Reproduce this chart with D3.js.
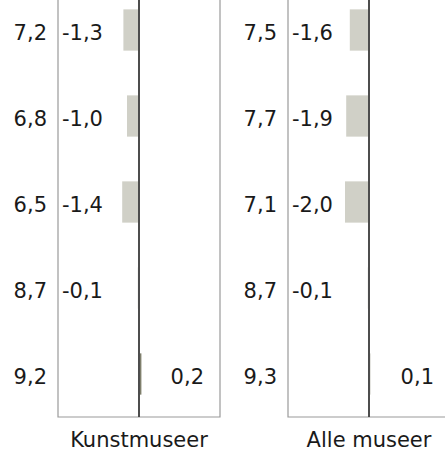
<!DOCTYPE html>
<html>
<head>
<meta charset="utf-8">
<script src="https://cdn.jsdelivr.net/npm/d3@7"></script>
<style>
  body { margin: 0; background: #fff; }
  text { font-family: Verdana, "DejaVu Sans", sans-serif; font-size: 21px; fill: #1a1a1a; }
</style>
</head>
<body>
<svg id="chart" width="445" height="450"></svg>
<script>
let panels = ["Kunstmuseer", "Alle museer"];
let rows = ["r1", "r2", "r3", "r4", "r5"];
let kunstScore = [7.2, 6.8, 6.5, 8.7, 9.2];
let kunstDiff = [-1.3, -1.0, -1.4, -0.1, 0.2];
let alleScore = [7.5, 7.7, 7.1, 8.7, 9.3];
let alleDiff = [-1.6, -1.9, -2.0, -0.1, 0.1];

let panelData = [
    {name: panels[0], score: kunstScore, diff: kunstDiff},
    {name: panels[1], score: alleScore, diff: alleDiff}
];

let locale = d3.formatLocale({decimal: ",", thousands: ".", grouping: [3], currency: ["", " kr"], minus: "-"});
let fmt = locale.format(".1f");

let svg = d3.select("#chart");

let px = d3.scaleBand().domain(panels).range([58, 450]).paddingInner(68 / 230);
let y = d3.scaleBand().domain(rows).range([-13, 417]).paddingInner(0.52).paddingOuter(0.26);
let x = d3.scaleLinear().domain([-6.75, 6.75]).range([0, px.bandwidth()]);

let bottom = 417;

let panel = svg.selectAll("g.panel").data(panelData).enter().append("g")
    .attr("class", "panel")
    .attr("transform", function (d) { return "translate(" + px(d.name) + ",0)"; });

// frame (top is outside the picture)
panel.append("path")
    .attr("d", "M0,-20V" + bottom + "H" + px.bandwidth() + "V-20")
    .attr("fill", "none")
    .attr("stroke", "#9a9a9a")
    .attr("stroke-width", 1.2);

panel.selectAll(".bar").data(function (d) {
    return d.diff.map(function (v, i) { return {row: rows[i], v: v}; });
}).enter().append("rect")
    .attr("class", "bar")
    .attr("x", function (d) { return x(Math.min(0, d.v)); })
    .attr("y", function (d) { return y(d.row); })
    .attr("width", function (d) { return Math.abs(x(d.v) - x(0)); })
    .attr("height", y.bandwidth())
    .attr("fill", function (d) { return d.v < 0 ? "#d0d0c7" : "#7f7f6c"; });

// zero line
panel.append("line")
    .attr("x1", x(0)).attr("x2", x(0))
    .attr("y1", -20).attr("y2", bottom)
    .attr("stroke", "#4d4d4d")
    .attr("stroke-width", 2);

// score labels left of the frame
panel.selectAll(".score").data(function (d) {
    return d.score.map(function (v, i) { return {row: rows[i], v: v}; });
}).enter().append("text")
    .attr("class", "score")
    .attr("x", -11)
    .attr("y", function (d) { return y(d.row) + y.bandwidth() / 2 + 9.5; })
    .attr("text-anchor", "end")
    .text(function (d) { return fmt(d.v); });

// difference labels
panel.selectAll(".diff").data(function (d) {
    return d.diff.map(function (v, i) { return {row: rows[i], v: v}; });
}).enter().append("text")
    .attr("class", "diff")
    .attr("x", function (d) { return d.v < 0 ? 4 : px.bandwidth() - 16; })
    .attr("y", function (d) { return y(d.row) + y.bandwidth() / 2 + 9.5; })
    .attr("text-anchor", function (d) { return d.v < 0 ? "start" : "end"; })
    .text(function (d) { return fmt(d.v); });

// panel titles
panel.append("text")
    .attr("x", x(0))
    .attr("y", 446.5)
    .attr("text-anchor", "middle")
    .text(function (d) { return d.name; });
</script>
</body>
</html>
